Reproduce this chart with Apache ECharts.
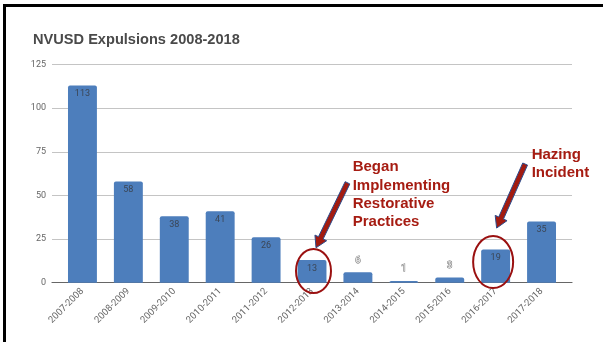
<!DOCTYPE html>
<html>
<head>
<meta charset="utf-8">
<script src="https://cdn.jsdelivr.net/npm/echarts@6/dist/echarts.min.js"></script>
<style>html,body{margin:0;padding:0;background:#fff;}#c{width:603px;height:342px;}</style>
</head>
<body>
<div id="c"></div>
<script>
var categories = ['2007-2008','2008-2009','2009-2010','2010-2011','2011-2012','2012-2013','2013-2014','2014-2015','2015-2016','2016-2017','2017-2018'];
var expulsions = [113, 58, 38, 41, 26, 13, 6, 1, 3, 19, 35];
var yTicks = [0, 25, 50, 75, 100, 125];
var titleText = 'NVUSD Expulsions 2008-2018';
var note1 = ['Began', 'Implementing', 'Restorative', 'Practices'];
var note2 = ['Hazing', 'Incident'];

var chart = echarts.init(document.getElementById('c'), null, {renderer: 'canvas'});
var GRID_TOP = 64.5, GRID_BOTTOM = 59.3;
var yMin = yTicks[0], yMax = yTicks[yTicks.length - 1], yInt = yTicks[1] - yTicks[0];

var barData = expulsions.map(function (v) {
  var d = {value: v};
  if (v < 10) {
    d.label = {position: 'top', distance: 7, fontSize: 9.5, color: '#f2f2f2', textBorderColor: '#707070', textBorderWidth: 1};
  }
  return d;
});

chart.setOption({
  animation: false,
  grid: [
    {left: 52, right: 31, top: GRID_TOP, bottom: GRID_BOTTOM},
    {left: 59.5, right: 38.5, top: GRID_TOP, bottom: GRID_BOTTOM}
  ],
  xAxis: [
    {type: 'category', gridIndex: 0, data: categories, axisLabel: {show: false}, axisTick: {show: false},
     axisLine: {show: true, lineStyle: {color: '#666', width: 1.2}}, splitLine: {show: false}},
    {type: 'category', gridIndex: 1, data: categories, axisTick: {show: false}, axisLine: {show: false},
     axisLabel: {rotate: 45, fontSize: 9.5, color: '#666', fontFamily: 'Roboto', margin: 7, interval: 0}}
  ],
  yAxis: [
    {type: 'value', gridIndex: 0, min: yMin, max: yMax, interval: yInt,
     axisLine: {show: false}, axisTick: {show: false},
     axisLabel: {fontSize: 9, color: '#666', fontFamily: 'Roboto', margin: 6},
     splitLine: {lineStyle: {color: '#c4c4c4', width: 1}}},
    {type: 'value', gridIndex: 1, min: yMin, max: yMax, interval: yInt, show: false, splitLine: {show: false}}
  ],
  series: [{
    type: 'bar', xAxisIndex: 1, yAxisIndex: 1, data: barData,
    barCategoryGap: '37%',
    itemStyle: {color: '#4d7ebc', borderRadius: [2, 2, 0, 0]},
    label: {show: true, position: 'insideTop', distance: 4, fontSize: 9, color: '#3b4656', fontFamily: 'Roboto'}
  }]
});

function px(cat, val) { return chart.convertToPixel({xAxisIndex: 1, yAxisIndex: 1}, [cat, val]); }

function arrow(tail, tip) {
  var dx = tip[0] - tail[0], dy = tip[1] - tail[1];
  var L = Math.sqrt(dx * dx + dy * dy), ux = dx / L, uy = dy / L, nx = -uy, ny = ux;
  var sw = 2.6, hw = 6.5, hl = 11;
  var bx = tip[0] - ux * hl, by = tip[1] - uy * hl;
  var pts = [
    [tail[0] + nx * sw, tail[1] + ny * sw],
    [bx + nx * sw, by + ny * sw],
    [bx + nx * hw, by + ny * hw],
    tip,
    [bx - nx * hw, by - ny * hw],
    [bx - nx * sw, by - ny * sw],
    [tail[0] - nx * sw, tail[1] - ny * sw]
  ];
  return {type: 'polygon', shape: {points: pts}, style: {fill: '#a21b10', stroke: '#2b4b8c', lineWidth: 1}, z: 100};
}

var c1 = px(categories[5], 6.7), c2 = px(categories[9], 11.8);
var tip1 = px(categories[5], 20), tip2 = px(categories[9], 31.3);
var noteFont = 'bold 15px "Liberation Sans", Arial, sans-serif';

chart.setOption({
  graphic: [
    {type: 'rect', shape: {x: 4.5, y: 5.5, width: 700, height: 400}, style: {fill: 'none', stroke: '#000', lineWidth: 3}, z: 200},
    {type: 'text', x: 33, y: 32, style: {text: titleText, font: 'bold 14.6px "Liberation Sans", Arial, sans-serif', fill: '#4a4a4a', verticalAlign: 'top'}},
    {type: 'ellipse', shape: {cx: c1[0] + 1.5, cy: c1[1], rx: 17.5, ry: 22}, style: {fill: 'none', stroke: '#9a1010', lineWidth: 2}, z: 100},
    {type: 'ellipse', shape: {cx: c2[0] - 2.5, cy: c2[1], rx: 20, ry: 26}, style: {fill: 'none', stroke: '#9a1010', lineWidth: 2}, z: 100},
    arrow([tip1[0] + 35.5, tip1[1] - 65], [tip1[0] + 4, tip1[1]]),
    arrow([tip2[0] + 29.5, tip2[1] - 64], [tip2[0] + 1, tip2[1]]),
    {type: 'text', x: 352.7, y: 158, style: {text: note1.join('\n'), font: noteFont, fill: '#a61c12', lineHeight: 18.3, verticalAlign: 'top'}, z: 100},
    {type: 'text', x: 531.7, y: 145.8, style: {text: note2.join('\n'), font: noteFont, fill: '#a61c12', lineHeight: 18, verticalAlign: 'top'}, z: 100}
  ]
});
</script>
</body>
</html>
